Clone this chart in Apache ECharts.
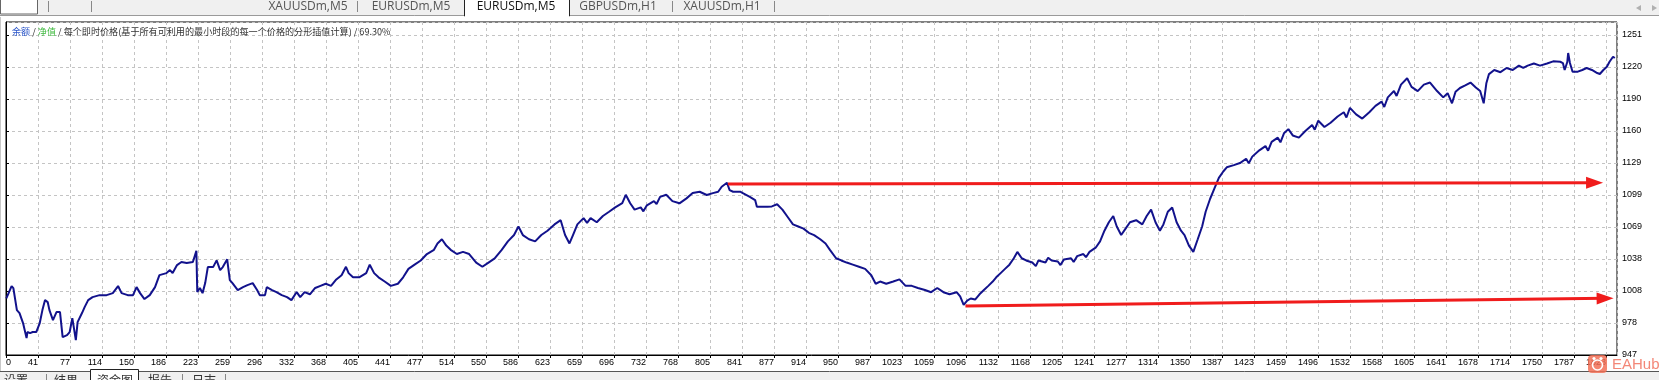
<!DOCTYPE html>
<html><head><meta charset="utf-8">
<script src="https://cdn.jsdelivr.net/npm/echarts@6/dist/echarts.min.js"></script>
<style>html,body{margin:0;padding:0;background:#fff;overflow:hidden}#c{width:1659px;height:380px}</style>
</head><body><div id="c"></div>
<script>
const xTickLabels = ['0','41','77','114','150','186','223','259','296','332','368','405','441','477','514','550','586','623','659','696','732','768','805','841','877','914','950','987','1023','1059','1096','1132','1168','1205','1241','1277','1314','1350','1387','1423','1459','1496','1532','1568','1605','1641','1678','1714','1750','1787','1823'];
const yTickLabels = ['947','978','1008','1038','1069','1099','1129','1160','1190','1220','1251'];

const tradeNo = [
5,11,13,17,20,24,28,29,32,35,39,43,46,49,52,54,58,62,66,69,74,77,80,84,86,91,94,98,103,111,119,126,132,136,143,149,153,157,162,168,174,179,187,191,194,199,204,210,217,221,222,225,228,231,234,240,244,248,251,256,259,262,268,274,279,285,290,293,299,301,307,312,318,324,329,335,339,
344,350,356,362,368,374,380,386,391,394,399,406,414,418,423,428,435,442,450,456,462,469,476,483,491,495,500,505,510,517,524,531,539,546,553,560,568,575,582,587,592,599,606,613,620,628,635,640,645,649,654,661,665,669,676,683,690,697,705,709,714,719,726,729,733,741,744,748,755,762,
770,778,785,793,801,808,814,818,824,827,831,839,842,850,856,858,870,
875,881,887,893,899,905,911,917,923,930,
936,941,948,954,960,967,974,981,988,993,
998,1005,1013,1020,1027,1034,1041,1049,1056,1063,
1070,1077,1085,1089,1093,1097,1101,1106,1111,1116,
1121,1126,1130,1135,1140,1145,1150,1154,1159,1164,
1171,1175,1178,1186,1189,1193,1200,1203,1207,1215,
1218,1222,1229,1232,1236,1243,1248,1253,1258,1263,
1267,1272,1277,1282,1289,1296,1301,1306,1311,1316,
1320,1325,1330,1335,1340,1344,1349,1354,1359,1364,
1368,1373,1378,1383,1388,1392,1400,1407,1414,1417,
1421,1429,1436,1439,1443,1450,1453,1457,1462,1467,
1474,1481,1489,1492,1496,1503,1510,1518,1525,1528,
1532,1539,1546,1554,1561,1568,1571,1575,1582,1585,
1590,1597,1602,1609,1616,1623,1631,1638,1643,1648,
1652,1657,1663,1669,1675,1680,1684,1687,1690,1696,
1703,1710,1717,1724,1729,1734,1741,1748,1756,1763,
1771,1774,1776,1779,1780,1782,1785,1791,1796,1801,1807,1813,1816,1820,1824,1827,1831,1833];

const equity = [
1001,1012.6,1010.7,989.8,987,977.5,963.2,969,968,969,969,977.5,989.8,999.3,997.4,989.8,980.3,987.9,987.9,964.2,966,969,982.2,961.3,978.4,987,992.6,999.3,1002.1,1004,1004,1005.9,1012.6,1005.9,1004,1004,1011.6,1005.9,1000.3,1004,1011.6,1023,1024.9,1027.8,1024.9,1032.5,1035.4,1034.4,1035.4,1046,1006.9,1010.7,1005.9,1015.4,1030.6,1030.6,1037,1027.8,1030.6,1038,1018.3,1015.4,1008.8,1011.6,1013.5,1015.4,1008.8,1004,1004,1011.6,1008.8,1006.9,1004,1002.1,999.3,1006.9,1002.1,
1006.8,1004.8,1010.8,1012.8,1014.8,1012.8,1018.9,1022.9,1030.9,1024.9,1020.9,1020.9,1024.9,1032.9,1024.9,1020.9,1016.9,1012.8,1014.8,1020.9,1028.9,1032.9,1036.9,1043,1047,1053,1057,1051,1047,1043,1045,1043,1034.9,1030.9,1034.9,1038.9,1047,1055,1061,1069.1,1061,1057,1055,1061,1065.1,1071.1,1075.1,1061,1053,1061,1071.1,1077.1,1072.5,1077.1,1073.1,1079.1,1083.1,1087.2,1091.2,1099.2,1091.2,1085.1,1087.2,1083.5,1089.2,1093.2,1090.5,1097.2,1099.2,1093.2,
1091.1,1095.8,1100.8,1102.1,1099,1100.8,1102.1,1106.8,1110.6,1103.7,1102.1,1102.1,1100.8,1097.3,1094.2,1087.8,1087.8,
1088.2,1090.2,1085.1,1078.1,1071.1,1069.1,1067.1,1063.1,1061,1057,
1053,1047,1039,1036.9,1034.9,1032.9,1030.9,1028.9,1022.9,1014.8,
1016.9,1014.8,1016.9,1018.9,1012.8,1012.8,1010.8,1008.8,1006.8,1010.8,
1006.8,1004.8,1006.8,1002.8,994.8,998.8,1000.8,999.8,1004.8,1008.8,
1012.8,1016.9,1020.9,1024.9,1028.9,1032.9,1039,1045,1039,1036.9,
1034.9,1031.5,1036.9,1034.9,1039.5,1036.9,1035.9,1032.5,1037.9,1039,
1035.5,1041,1043,1040,1045,1049,1055,1065.1,1073.1,1079.1,
1069.1,1061,1067.1,1073.1,1075.1,1071.1,1079.1,1085.1,1073.1,1065.1,
1071.1,1083.1,1087.2,1073.1,1065.1,1061,1051,1045,1057,1069.1,
1083.1,1095.2,1105.2,1115.3,1121.3,1125.3,1127.3,1129.3,1133.4,1129,
1135.4,1141.4,1145.4,1141,1149.4,1153.4,1149,1157.5,1161.5,1155.5,
1153.4,1159.5,1165.5,1161,1169.5,1163.5,1167.5,1173.5,1177.5,1172.5,
1181.6,1175.5,1171.5,1177.5,1183.6,1187.6,1182.5,1191.6,1197.6,1193,
1203.7,1209.7,1201.6,1197.6,1203.7,1205.7,1197.6,1191.6,1195.6,1186,
1197,1200.5,1203,1205.7,1201,1197.6,1186,1205,1213.7,1217.6,
1215.5,1219.5,1217.6,1221.7,1219.5,1221.7,1223.7,1221.7,1223.7,1225.8,
1225.4,1224.2,1217.6,1225.2,1233.7,1224.2,1216,1216,1217.6,1219.5,1217.6,1214.7,1213.8,1217.6,1220.7,1225.4,1230.2,1229];

// annotation arrows: [fromTrade, fromEquity, toTrade, toEquity]
const arrowLines = [[825,1109.4,1810,1110.7],[1095,993.8,1822,1001.0]];

const titleParts = ['余额', '净值', '每个即时价格(基于所有可利用的最小时段的每一个价格的分形插值计算)', '69.30%'];
const topTabs = ['XAUUSDm,M5','EURUSDm,M5','EURUSDm,M5','GBPUSDm,H1','XAUUSDm,H1'];
const bottomTabs = ['设置','结果','资金图','报告','日志'];

const X_MIN = 4.63, X_STEP = 36.37, X_UNITS = 50.34;
const Y_MIN = 947.2, Y_STEP = 30.36, Y_UNITS = 10.406;

if (tradeNo.length !== equity.length) console.error('length mismatch', tradeNo.length, equity.length);

const chart = echarts.init(document.getElementById('c'), null, {renderer: 'canvas'});
const points = tradeNo.map((t, i) => [t, equity[i]]);

const grey = '#444';
const tabFont = '"Open Sans", sans-serif';
const cjkFont = '"Noto Sans CJK SC", sans-serif';
function tabText(txt, cx, cy, font, size, color) {
  return {type: 'text', x: cx, y: cy, z: 20, style: {text: txt, fill: color || grey, font: size + 'px ' + font, align: 'center', verticalAlign: 'middle'}};
}
function vbar(x, y1, y2, c) {
  return {type: 'line', z: 20, shape: {x1: x, y1: y1, x2: x, y2: y2}, style: {stroke: c || '#888', lineWidth: 1}};
}
const topCenters = [308, 411, 516, 618, 722];
const bottomCenters = [16, 66, 115, 160, 204];

const graphics = [
  {type: 'rect', z: 10, shape: {x: 0, y: 0, width: 1659, height: 16}, style: {fill: '#f0f0f0'}},
  {type: 'line', z: 11, shape: {x1: 0, y1: 15.5, x2: 1659, y2: 15.5}, style: {stroke: '#9a9a9a', lineWidth: 1}},
  {type: 'rect', z: 12, shape: {x: 0.5, y: -2, width: 37, height: 16}, style: {fill: '#fff', stroke: '#666', lineWidth: 1}},
  vbar(48.5, 1, 12), vbar(91.5, 1, 12),
  {type: 'rect', z: 12, shape: {x: 464.5, y: -2, width: 105, height: 18}, style: {fill: '#fff', stroke: '#222', lineWidth: 1}},
  {type: 'rect', z: 13, shape: {x: 465, y: 14, width: 104, height: 4}, style: {fill: '#fff'}},
  vbar(357.5, 1, 12), vbar(672.5, 1, 12), vbar(774.5, 1, 12),
  {type: 'polygon', z: 20, shape: {points: [[1636, 8], [1641, 5], [1641, 11]]}, style: {fill: '#b0b0b0'}},
  {type: 'polygon', z: 20, shape: {points: [[1657, 8], [1652, 5], [1652, 11]]}, style: {fill: '#b0b0b0'}},
  {type: 'rect', z: 10, shape: {x: 0, y: 372, width: 1659, height: 8}, style: {fill: '#f0f0f0'}},
  {type: 'line', z: 11, shape: {x1: 0, y1: 371.5, x2: 1659, y2: 371.5}, style: {stroke: '#555', lineWidth: 1}},
  {type: 'rect', z: 12, shape: {x: 90.5, y: 369.5, width: 48, height: 14}, style: {fill: '#fff', stroke: '#222', lineWidth: 1}},
  vbar(46.5, 374, 380), vbar(182.5, 374, 380), vbar(225.5, 374, 380),
  {type: 'line', z: 11, shape: {x1: 0.5, y1: 17, x2: 0.5, y2: 371}, style: {stroke: '#c8c8c8', lineWidth: 1}},
  {type: 'rect', z: 30, shape: {x: 1588, y: 355, width: 19, height: 18, r: 4}, style: {fill: 'rgba(242,112,86,0.85)'}},
  {type: 'circle', z: 31, shape: {cx: 1597.5, cy: 365, r: 5}, style: {fill: 'none', stroke: '#fff', lineWidth: 1.6}},
  {type: 'circle', z: 31, shape: {cx: 1594, cy: 358.5, r: 1.6}, style: {fill: '#fff'}},
  {type: 'circle', z: 31, shape: {cx: 1601, cy: 358.5, r: 1.6}, style: {fill: '#fff'}},
  {type: 'text', z: 30, x: 1612, y: 365, style: {text: 'EAHub', fill: 'rgba(240,105,85,0.8)', font: '15px "Liberation Sans", sans-serif', verticalAlign: 'middle'}}
];
topTabs.forEach((t, i) => graphics.push(tabText(t, topCenters[i], 7, tabFont, 12, i === 2 ? '#111' : '#555')));
bottomTabs.forEach((t, i) => graphics.push({type: 'text', x: bottomCenters[i], y: 374, z: 20, style: {text: t, fill: '#333', font: '12px ' + cjkFont, align: 'center', verticalAlign: 'top'}}));

const axisFont = {fontSize: 9, fontFamily: '"Liberation Sans", Arial, sans-serif', color: '#000'};
const dashed = {show: true, lineStyle: {color: '#c4c4c4', type: [3, 3], width: 1}};
const tSize = 9.1;

chart.setOption({
  animation: false,
  backgroundColor: '#fff',
  title: {
    left: 12, top: 27, padding: 0,
    text: '{a|' + titleParts[0] + '}{s| / }{b|' + titleParts[1] + '}{s| / ' + titleParts[2] + ' / ' + titleParts[3] + '}',
    textStyle: {
      fontSize: tSize, fontWeight: 'normal', fontFamily: cjkFont,
      rich: {
        a: {color: '#2a55c8', fontSize: tSize, fontFamily: cjkFont},
        b: {color: '#3cb83c', fontSize: tSize, fontFamily: cjkFont},
        s: {color: '#333', fontSize: tSize, fontFamily: cjkFont}
      }
    }
  },
  grid: {left: 6, right: 42, top: 22, bottom: 25, show: true, borderColor: '#000', borderWidth: 1, backgroundColor: '#fff', containLabel: false, outerBoundsMode: 'none'},
  xAxis: [
    {type: 'value', min: 0, max: X_UNITS, interval: 1, position: 'bottom',
     axisLine: {show: true, lineStyle: {color: '#000'}},
     axisTick: {show: true, length: 3, lineStyle: {color: '#000'}},
     splitLine: dashed,
     axisLabel: Object.assign({margin: 3, align: 'right', alignMinLabel: 'left', showMaxLabel: false, showMinLabel: true,
       formatter: v => { const k = Math.round(v); return Math.abs(v - k) < 1e-6 && xTickLabels[k] !== undefined ? xTickLabels[k] : ''; }}, axisFont)},
    {type: 'value', min: X_MIN, max: X_MIN + X_UNITS * X_STEP, show: false, splitLine: {show: false}}
  ],
  yAxis: [
    {type: 'value', min: 0, max: Y_UNITS, interval: 1, position: 'right',
     axisLine: {show: true, lineStyle: {color: '#000'}},
     axisTick: {show: true, length: 3, lineStyle: {color: '#000'}},
     splitLine: dashed,
     axisLabel: Object.assign({margin: 5, showMaxLabel: false,
       formatter: v => { const k = Math.round(v); return Math.abs(v - k) < 1e-6 && yTickLabels[k] !== undefined ? yTickLabels[k] : ''; }}, axisFont)},
    {type: 'value', min: Y_MIN, max: Y_MIN + Y_UNITS * Y_STEP, show: false, splitLine: {show: false}}
  ],
  series: [{
    type: 'line', xAxisIndex: 1, yAxisIndex: 1, data: points,
    showSymbol: false, symbol: 'none', smooth: false,
    lineStyle: {color: '#12128c', width: 2},
    emphasis: {disabled: true}, silent: true, z: 3,
    markLine: {
      silent: true, animation: false,
      label: {show: false},
      emphasis: {disabled: true},
      lineStyle: {color: '#f01c1c', width: 3, type: 'solid', opacity: 1},
      data: arrowLines.map(a => [
        {coord: [a[0], a[1]], symbol: 'none'},
        {coord: [a[2], a[3]], symbol: 'triangle', symbolSize: [12, 17]}
      ])
    }
  }],
  graphic: graphics
});
</script></body></html>
